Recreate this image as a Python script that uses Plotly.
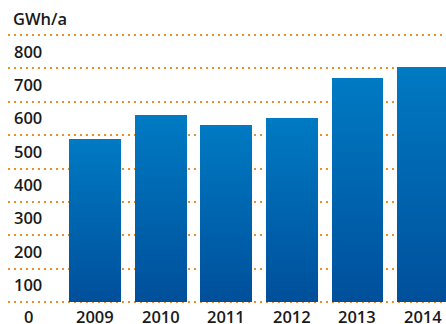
import plotly.graph_objects as go

# ---- data ----
years = ["2009", "2010", "2011", "2012", "2013", "2014"]
values = [488, 559, 530, 551, 671, 704]
y_ticks = [0, 100, 200, 300, 400, 500, 600, 700, 800]
y_tick_labels = ["0", "100", "200", "300", "400", "500", "600", "700", "800"]
unit_label = "GWh/a"

# ---- style ----
FONT = "Open Sans"
TEXT = "#1a1a1a"
GRID = "#F28C28"
TOP = (0x00, 0x7A, 0xC3)
BOTTOM = (0x00, 0x4F, 0x9B)
K = 60  # gradient slices per bar

fig = go.Figure()
for i in range(K):
    t = (i + 0.5) / K
    c = tuple(round(BOTTOM[j] + (TOP[j] - BOTTOM[j]) * t) for j in range(3))
    fig.add_trace(go.Bar(
        x=list(range(len(years))),
        y=[v / K for v in values],
        marker=dict(color="rgb(%d,%d,%d)" % c, line=dict(width=0)),
        hoverinfo="skip",
        showlegend=False,
    ))

annotations = []
for v, lab in zip(y_ticks, y_tick_labels):
    annotations.append(dict(
        x=0, xref="paper", xanchor="center", xshift=20,
        y=v, yref="y", yanchor="middle", yshift=-14 if v == 0 else -16,
        text=lab, showarrow=False, borderpad=0,
        font=dict(family=FONT, size=16.5, color=TEXT, weight=600),
    ))
for i, yr in enumerate(years):
    annotations.append(dict(
        x=i, xref="x", xanchor="center",
        y=0, yref="y", yanchor="middle", yshift=-14,
        text=yr, showarrow=False, borderpad=0,
        font=dict(family=FONT, size=16.5, color=TEXT, weight=600),
    ))
annotations.append(dict(
    x=0, xref="paper", xanchor="left", xshift=4,
    y=y_ticks[-1], yref="y", yanchor="middle", yshift=17,
    text=unit_label, showarrow=False, borderpad=0,
    font=dict(family=FONT, size=16.5, color=TEXT, weight=600),
))

fig.update_layout(
    width=446, height=324,
    margin=dict(l=8, r=0, t=0, b=0),
    paper_bgcolor="white", plot_bgcolor="white",
    barmode="stack", bargap=0.21,
    showlegend=False,
    annotations=annotations,
    xaxis=dict(range=[-1.326, 5.35], showgrid=False, zeroline=False,
               showticklabels=False, ticks="", fixedrange=True),
    yaxis=dict(range=[-65.9, 904.9], tickvals=y_ticks, showticklabels=False,
               showgrid=True, gridcolor=GRID, gridwidth=2, griddash="2px,4px",
               zeroline=False, ticks="", fixedrange=True),
)

fig.write_html("out.html", config=dict(displayModeBar=False))
